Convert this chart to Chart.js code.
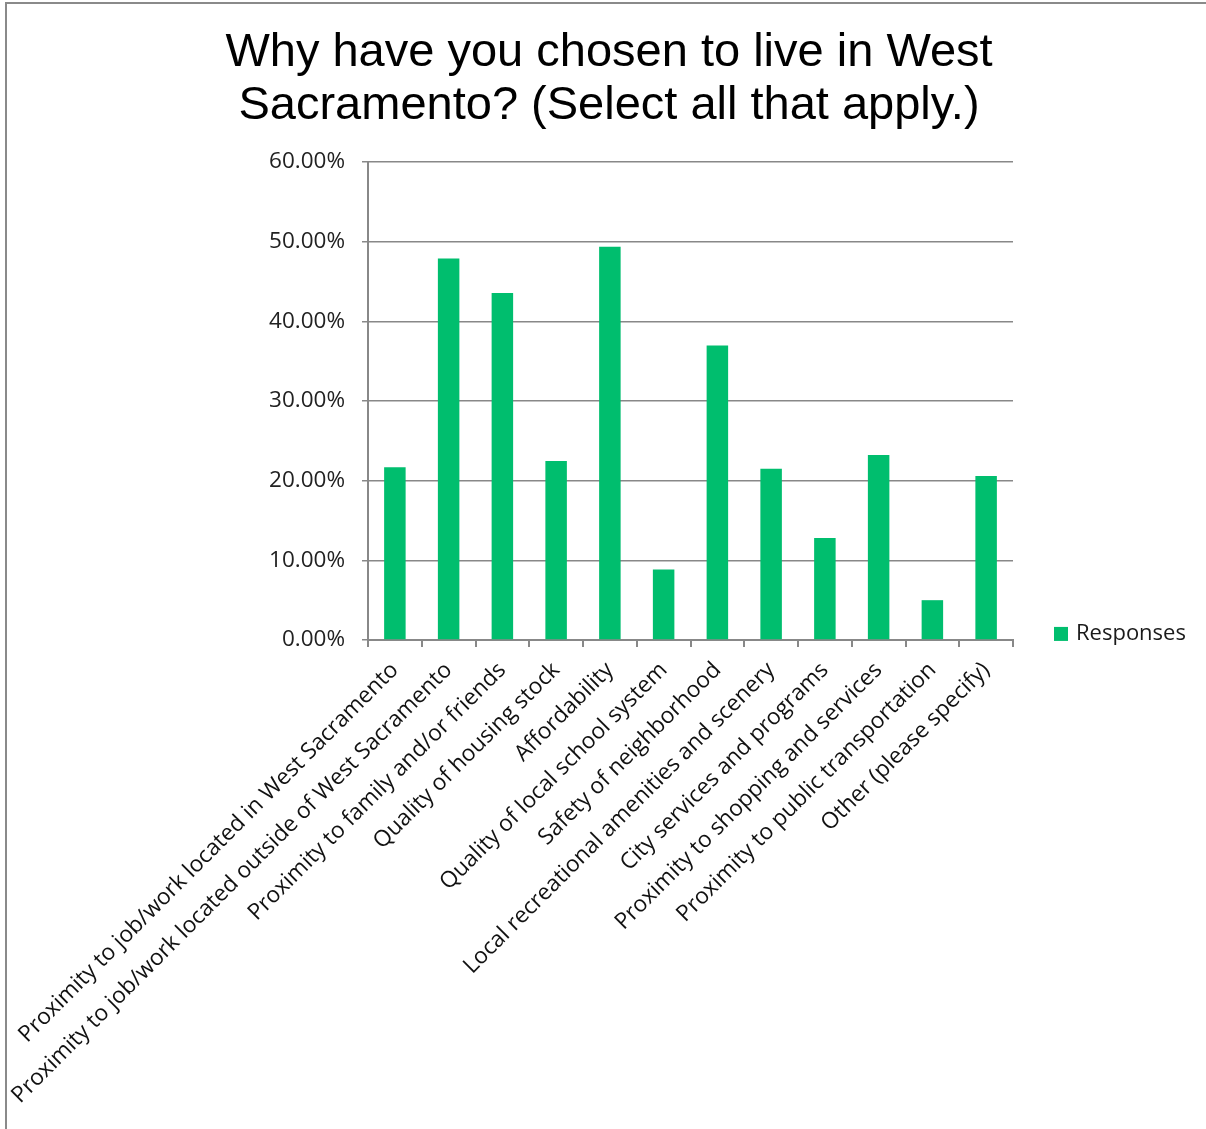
<!DOCTYPE html>
<html>
<head>
<meta charset="utf-8">
<script src="https://cdn.jsdelivr.net/npm/chart.js@4.4.1/dist/chart.umd.min.js"></script>
<style>
  body { margin: 0; background: #fff; }
  #wrap { position: relative; width: 1206px; height: 1129px; }
</style>
</head>
<body>
<div id="wrap"><canvas id="chart" width="1206" height="1129"></canvas></div>
<script>
const categories = [
  'Proximity to job/work located in West Sacramento',
  'Proximity to job/work located outside of West Sacramento',
  'Proximity to family and/or friends',
  'Quality of housing stock',
  'Affordability',
  'Quality of local school system',
  'Safety of neighborhood',
  'Local recreational amenities and scenery',
  'City services and programs',
  'Proximity to shopping and services',
  'Proximity to public transportation',
  'Other (please specify)'
];
const responses = [21.67, 47.90, 43.56, 22.47, 49.35, 8.85, 36.98, 21.50, 12.79, 23.23, 4.99, 20.59];
const seriesName = 'Responses';
const barColor = '#00BE6E';
const gridColor = '#888888';
const labelFont = "'Open Sans', 'Noto Sans', sans-serif";

// draws the single legend entry next to the plot, plus the outer frame
const sideLegend = {
  id: 'sideLegend',
  afterDraw(chart) {
    const ctx = chart.ctx;
    const area = chart.chartArea;
    const ds = chart.data.datasets[0];
    ctx.save();
    ctx.strokeStyle = '#8a8a8a';
    ctx.lineWidth = 2;
    ctx.beginPath();
    ctx.moveTo(6, 1129);
    ctx.lineTo(6, 3);
    ctx.lineTo(1206, 3);
    ctx.stroke();
    const x = area.right + 41;
    const y = area.bottom - 6;
    ctx.fillStyle = ds.backgroundColor;
    ctx.fillRect(x, y - 7, 14, 14);
    ctx.fillStyle = '#1a1a1a';
    ctx.font = '22px ' + labelFont;
    ctx.textBaseline = 'middle';
    ctx.fillText(ds.label, x + 22, y);
    ctx.restore();
  }
};

new Chart(document.getElementById('chart'), {
  type: 'bar',
  data: {
    labels: categories,
    datasets: [{
      label: seriesName,
      data: responses,
      backgroundColor: barColor,
      barPercentage: 0.4,
      categoryPercentage: 1.0
    }]
  },
  options: {
    responsive: false,
    animation: false,
    layout: { padding: { left: 205, right: 193, top: 0, bottom: 10 } },
    plugins: {
      legend: { display: false },
      tooltip: { enabled: false },
      title: {
        display: true,
        text: ['Why have you chosen to live in West', 'Sacramento? (Select all that apply.)'],
        color: '#000',
        font: { family: "'Liberation Sans', Arial, sans-serif", size: 47, weight: 'normal', lineHeight: 1.128 },
        padding: { top: 27, bottom: 29 }
      }
    },
    scales: {
      x: {
        // long rotated labels run into the empty left margin, don't let them push the plot
        afterFit(scale) { scale.paddingLeft = 0; },
        grid: {
          offset: true,
          drawOnChartArea: false,
          drawTicks: true,
          tickLength: 7,
          color: gridColor,
          lineWidth: 2
        },
        border: { color: gridColor, width: 2 },
        ticks: {
          autoSkip: false,
          minRotation: 45,
          maxRotation: 45,
          padding: 10,
          color: '#111',
          font: { family: labelFont, size: 22.6 }
        }
      },
      y: {
        min: 0,
        max: 60,
        afterFit(scale) { scale.width = 163; },
        grid: { color: gridColor, lineWidth: 1.5, tickLength: 6 },
        border: { color: gridColor, width: 2 },
        ticks: {
          stepSize: 10,
          padding: 17,
          color: '#222',
          font: { family: labelFont, size: 22.5 },
          callback: v => v.toFixed(2) + '%'
        }
      }
    }
  },
  plugins: [sideLegend]
});
</script>
</body>
</html>
